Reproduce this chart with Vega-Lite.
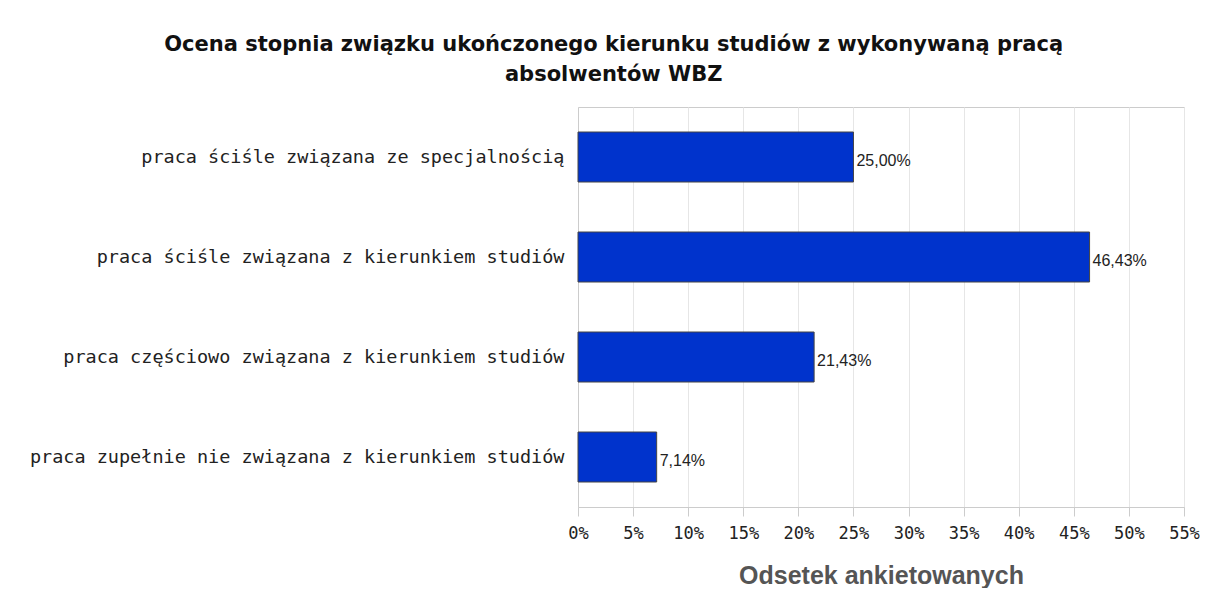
{
  "$schema": "https://vega.github.io/schema/vega-lite/v6.json",
  "width": 606,
  "height": 400,
  "padding": {"left": 8, "top": 34, "right": 0, "bottom": 0},
  "background": "white",
  "title": {
    "text": ["Ocena stopnia związku ukończonego kierunku studiów z wykonywaną pracą", "absolwentów WBZ"],
    "font": "DejaVu Sans",
    "fontSize": 21,
    "fontWeight": "bold",
    "color": "#111111",
    "lineHeight": 30,
    "anchor": "middle",
    "frame": "bounds",
    "offset": 22,
    "dx": 10
  },
  "data": {
    "values": [
      {"kategoria": "praca ściśle związana ze specjalnością", "odsetek": 0.25},
      {"kategoria": "praca ściśle związana z kierunkiem studiów", "odsetek": 0.4643},
      {"kategoria": "praca częściowo związana z kierunkiem studiów", "odsetek": 0.2143},
      {"kategoria": "praca zupełnie nie związana z kierunkiem studiów", "odsetek": 0.0714}
    ]
  },
  "encoding": {
    "y": {
      "field": "kategoria",
      "type": "nominal",
      "sort": null,
      "scale": {"paddingInner": 0.5, "paddingOuter": 0.25},
      "axis": {
        "title": null,
        "domain": true,
        "domainColor": "#cccccc",
        "ticks": false,
        "labelPadding": 14,
        "labelFont": "DejaVu Sans Mono",
        "labelFontSize": 18.5,
        "labelColor": "#222222",
        "labelLimit": 600,
        "minExtent": 570,
        "maxExtent": 570,
        "grid": false
      }
    },
    "x": {
      "field": "odsetek",
      "type": "quantitative",
      "scale": {"domain": [0, 0.55], "nice": false},
      "axis": {
        "values": [0, 0.05, 0.1, 0.15, 0.2, 0.25, 0.3, 0.35, 0.4, 0.45, 0.5, 0.55],
        "format": ".0%",
        "title": "Odsetek ankietowanych",
        "titleFont": "Liberation Sans",
        "titleFontSize": 25,
        "titleFontWeight": "bold",
        "titleColor": "#555555",
        "titlePadding": 22,
        "labelFont": "DejaVu Sans Mono",
        "labelFontSize": 17,
        "labelColor": "#222222",
        "labelPadding": 9,
        "tickSize": 9,
        "tickColor": "#cccccc",
        "domainColor": "#cccccc",
        "gridColor": "#e6e6e6",
        "grid": true,
        "labelFlush": false,
        "labelOverlap": false
      }
    }
  },
  "layer": [
    {
      "mark": {"type": "bar", "color": "#0033cc", "stroke": "#444444", "strokeWidth": 1}
    },
    {
      "mark": {"type": "text", "align": "left", "baseline": "middle", "dx": 3, "dy": 4, "font": "Liberation Sans", "fontSize": 16, "color": "#222222"},
      "encoding": {
        "text": {"field": "odsetek", "type": "quantitative", "format": ".2%"}
      }
    }
  ],
  "config": {
    "locale": {
      "number": {"decimal": ",", "thousands": " ", "grouping": [3], "currency": ["", " zł"]}
    },
    "view": {"stroke": "#cccccc", "strokeWidth": 1}
  }
}
